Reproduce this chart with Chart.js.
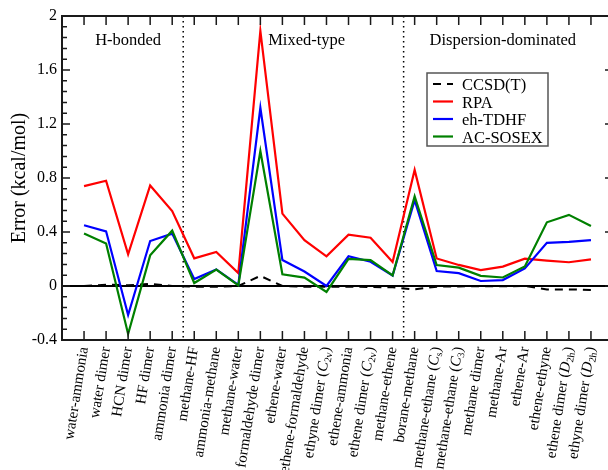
<!DOCTYPE html>
<html>
<head>
<meta charset="utf-8">
<script src="https://cdn.jsdelivr.net/npm/chart.js@4.4.1/dist/chart.umd.min.js"></script>
<style>
  html, body { margin: 0; padding: 0; background: #fff; overflow: hidden; width: 608px; height: 470px; }
  #wrap { width: 630px; height: 470px; }
</style>
</head>
<body>
<div id="wrap"><canvas id="c" width="630" height="470"></canvas></div>
<script>
// Complexes (point-group subscripts written as X_{sub})
const systems = [
  'water-ammonia', 'water dimer', 'HCN dimer', 'HF dimer', 'ammonia dimer',
  'methane-HF', 'ammonia-methane', 'methane-water', 'formaldehyde dimer', 'ethene-water',
  'ethene-formaldehyde', 'ethyne dimer (C_{2v})', 'ethene-ammonia', 'ethene dimer (C_{2v})',
  'methane-ethene', 'borane-methane', 'methane-ethane (C_{s})', 'methane-ethane (C_{3})',
  'methane dimer', 'methane-Ar', 'ethene-Ar', 'ethene-ethyne', 'ethene dimer (D_{2h})',
  'ethyne dimer (D_{2h})'
];

// Errors in kcal/mol
const ccsdt   = [0.0, 0.01, 0.005, 0.015, 0.0, -0.005, -0.005, 0.0, 0.075, 0.0, -0.005, -0.005,
                 -0.005, -0.008, -0.01, -0.025, -0.005, -0.003, -0.002, -0.002, 0.0, -0.025, -0.025, -0.03];
const rpa     = [0.74, 0.78, 0.235, 0.745, 0.555, 0.205, 0.252, 0.096, 1.89, 0.536, 0.339, 0.22,
                 0.38, 0.358, 0.178, 0.86, 0.204, 0.156, 0.118, 0.144, 0.203, 0.188, 0.176, 0.197];
const ehTdhf  = [0.45, 0.405, -0.215, 0.333, 0.388, 0.052, 0.123, 0.008, 1.32, 0.192, 0.107, 0.0,
                 0.22, 0.18, 0.078, 0.635, 0.111, 0.095, 0.037, 0.044, 0.13, 0.32, 0.327, 0.34];
const acSosex = [0.388, 0.314, -0.355, 0.227, 0.41, 0.022, 0.122, 0.005, 1.0, 0.087, 0.062, -0.044,
                 0.2, 0.192, 0.078, 0.665, 0.155, 0.136, 0.075, 0.063, 0.145, 0.472, 0.527, 0.444];

const yTicks = [-0.4, 0, 0.4, 0.8, 1.2, 1.6, 2];
const groupNames = ['H-bonded', 'Mixed-type', 'Dispersion-dominated'];
const groupBreaks = [4.5, 14.5];

const SERIF = '"Liberation Serif", "Times New Roman", serif';
const pts = arr => arr.map((v, i) => ({ x: i, y: v }));
const fmt = v => String(Math.round(v * 10) / 10);

// minor y ticks: four between each labelled tick
const yMinor = [];
for (let k = 0; k < yTicks.length - 1; k++) {
  const a = yTicks[k], b = yTicks[k + 1];
  for (let j = 1; j < 5; j++) yMinor.push(a + (b - a) * j / 5);
}

function drawSystemLabel(ctx, text, x, y) {
  const m = text.match(/^(.*\()([A-Z])_\{(\w+)\}(\))$/);
  const parts = m
    ? [[m[1], '15px ' + SERIF, 0], [m[2], 'italic 15px ' + SERIF, 0], [m[3], '10px ' + SERIF, 4], [m[4], '15px ' + SERIF, 0]]
    : [[text, '15px ' + SERIF, 0]];
  ctx.save();
  ctx.translate(x, y);
  ctx.rotate(-81 * Math.PI / 180);
  ctx.textBaseline = 'middle';
  ctx.textAlign = 'left';
  let total = 0;
  parts.forEach(p => { ctx.font = p[1]; total += ctx.measureText(p[0]).width; });
  let cx = -total;
  parts.forEach(p => {
    ctx.font = p[1];
    ctx.fillText(p[0], cx, p[2]);
    cx += ctx.measureText(p[0]).width;
  });
  ctx.restore();
}

const decor = {
  id: 'decor',
  beforeDatasetsDraw(chart) {
    const { ctx, chartArea: a, scales: { x, y } } = chart;
    ctx.save();
    // zero line
    const y0 = y.getPixelForValue(0);
    ctx.strokeStyle = '#000';
    ctx.lineWidth = 2;
    ctx.beginPath(); ctx.moveTo(a.left, y0); ctx.lineTo(a.right, y0); ctx.stroke();
    // dotted group separators
    ctx.lineWidth = 1.5;
    ctx.setLineDash([1.5, 3.5]);
    groupBreaks.forEach(g => {
      const px = x.getPixelForValue(g);
      ctx.beginPath(); ctx.moveTo(px, a.top); ctx.lineTo(px, a.bottom); ctx.stroke();
    });
    ctx.restore();
  },
  afterDatasetsDraw(chart, args, opts) {
    const { ctx, chartArea: a, scales: { x, y } } = chart;
    ctx.save();
    // frame
    ctx.strokeStyle = '#1a1a1a';
    ctx.lineWidth = 2;
    ctx.strokeRect(a.left, a.top, a.right - a.left, a.bottom - a.top);
    // tick marks
    ctx.lineWidth = 1.5;
    ctx.beginPath();
    systems.forEach((s, i) => {
      const px = x.getPixelForValue(i);
      ctx.moveTo(px, a.top); ctx.lineTo(px, a.top + 9);
      ctx.moveTo(px, a.bottom); ctx.lineTo(px, a.bottom - 9);
    });
    yTicks.forEach(v => {
      const py = y.getPixelForValue(v);
      ctx.moveTo(a.left, py); ctx.lineTo(a.left + 8, py);
      ctx.moveTo(a.right, py); ctx.lineTo(a.right - 8, py);
    });
    yMinor.forEach(v => {
      const py = y.getPixelForValue(v);
      ctx.moveTo(a.left, py); ctx.lineTo(a.left + 5, py);
      ctx.moveTo(a.right, py); ctx.lineTo(a.right - 5, py);
    });
    ctx.stroke();

    // category labels
    ctx.fillStyle = '#000';
    systems.forEach((s, i) => drawSystemLabel(ctx, s, x.getPixelForValue(i), a.bottom + 7));

    // group titles
    ctx.font = '16.5px ' + SERIF;
    ctx.textAlign = 'center';
    ctx.textBaseline = 'alphabetic';
    groupNames.forEach((g, i) => {
      ctx.fillText(g, x.getPixelForValue(opts.groupAt[i]), a.top + 29);
    });

    // legend
    const L = opts.legend;
    ctx.fillStyle = '#fff';
    ctx.fillRect(L.x, L.y, L.w, L.h);
    ctx.strokeStyle = '#555';
    ctx.lineWidth = 1.5;
    ctx.strokeRect(L.x, L.y, L.w, L.h);
    ctx.textAlign = 'left';
    chart.data.datasets.forEach((ds, i) => {
      const ly = L.y + 11 + i * 17.5;
      ctx.strokeStyle = ds.borderColor;
      ctx.lineWidth = ds.borderWidth;
      ctx.setLineDash(ds.borderDash || []);
      ctx.beginPath(); ctx.moveTo(L.x + 6, ly); ctx.lineTo(L.x + 26, ly); ctx.stroke();
      ctx.setLineDash([]);
      ctx.fillStyle = '#000';
      ctx.font = '16.5px ' + SERIF;
      ctx.fillText(ds.label, L.x + 35, ly + 6);
    });
    ctx.restore();
  }
};

new Chart(document.getElementById('c'), {
  type: 'line',
  data: {
    datasets: [
      { label: 'CCSD(T)', data: pts(ccsdt), borderColor: '#000', borderWidth: 2, borderDash: [8, 6], order: 3 },
      { label: 'RPA', data: pts(rpa), borderColor: '#ff0000', borderWidth: 2.2, order: 2 },
      { label: 'eh-TDHF', data: pts(ehTdhf), borderColor: '#0000ff', borderWidth: 2.2, order: 1 },
      { label: 'AC-SOSEX', data: pts(acSosex), borderColor: '#008000', borderWidth: 2.2, order: 0 }
    ]
  },
  options: {
    responsive: false,
    animation: false,
    layout: { padding: { top: 16, right: 17, bottom: 0, left: 0 } },
    elements: {
      point: { radius: 0 },
      line: { tension: 0, borderJoinStyle: 'miter', fill: false }
    },
    plugins: {
      legend: { display: false },
      tooltip: { enabled: false },
      decor: {
        groupAt: [2, 10.1, 19],
        legend: { x: 427, y: 73, w: 121, h: 73 }
      }
    },
    scales: {
      x: {
        type: 'linear', min: -1, max: 24,
        grid: { display: false }, border: { display: false },
        ticks: { display: false },
        afterFit(s) { s.height = 130; }
      },
      y: {
        min: -0.4, max: 2,
        afterBuildTicks(s) { s.ticks = yTicks.map(v => ({ value: v })); },
        grid: { display: false, drawTicks: false }, border: { display: false },
        ticks: { padding: 5, color: '#000', font: { family: SERIF, size: 16 }, callback: v => fmt(v) },
        title: { display: true, text: 'Error (kcal/mol)', color: '#000',
                 font: { family: SERIF, size: 20 }, padding: { top: 8, bottom: 0 } },
        afterFit(s) { s.width = 62; }
      }
    }
  },
  plugins: [decor]
});
</script>
</body>
</html>
